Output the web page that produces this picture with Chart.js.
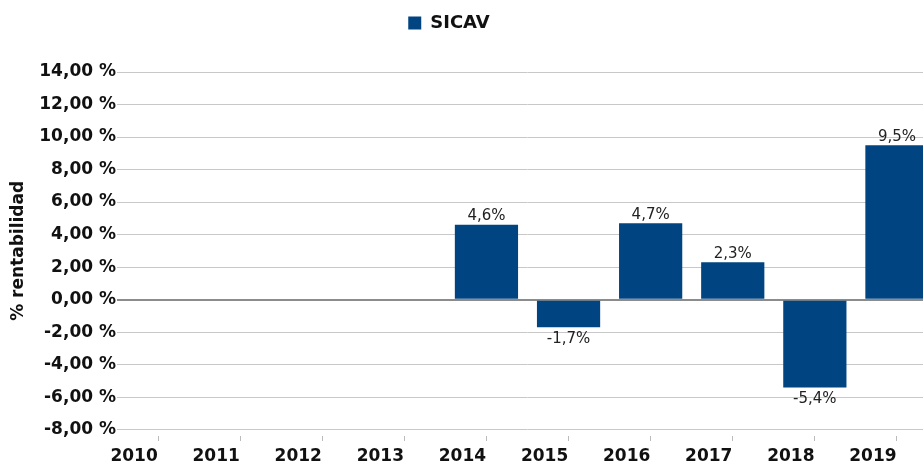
<!DOCTYPE html>
<html>
<head>
<meta charset="utf-8">
<script src="https://cdn.jsdelivr.net/npm/chart.js@4/dist/chart.umd.min.js"></script>
<style>
  html, body { margin: 0; padding: 0; background: #fff; overflow: hidden; }
  #wrap { width: 960px; height: 466px; }
</style>
</head>
<body>
<div id="wrap"><canvas id="c" width="960" height="466"></canvas></div>
<script>
const years = ['2010', '2011', '2012', '2013', '2014', '2015', '2016', '2017', '2018', '2019'];
const sicav = [null, null, null, null, 4.6, -1.7, 4.7, 2.3, -5.4, 9.5];

const fmt = v => v.toFixed(1).replace('.', ',') + '%';

// value labels above / below each bar
const barLabels = {
    id: 'barLabels',
    afterDatasetsDraw(chart) {
        const ctx = chart.ctx;
        const meta = chart.getDatasetMeta(0);
        ctx.save();
        ctx.font = '15px "DejaVu Sans"';
        ctx.fillStyle = '#222';
        ctx.textAlign = 'center';
        meta.data.forEach((bar, i) => {
            const v = sicav[i];
            if (v === null) return;
            if (v >= 0) {
                ctx.textBaseline = 'bottom';
                ctx.fillText(fmt(v), bar.x, bar.y - 1);
            } else {
                ctx.textBaseline = 'top';
                ctx.fillText(fmt(v), bar.x, bar.y + 4);
            }
        });
        ctx.restore();
    }
};

// extra room under the legend and shift it a bit to the left
const legendTweak = {
    id: 'legendTweak',
    beforeInit(chart) {
        const fit = chart.legend.fit;
        chart.legend.fit = function () {
            fit.bind(this)();
            this.height += 30;
        };
    },
    afterLayout(chart) {
        chart.legend.left -= 20;
        chart.legend.right -= 20;
    }
};

new Chart(document.getElementById('c'), {
    type: 'bar',
    data: {
        labels: years,
        datasets: [{
            label: 'SICAV',
            data: sicav,
            backgroundColor: '#004481',
            borderWidth: 0,
            barPercentage: 0.77,
            categoryPercentage: 1
        }]
    },
    options: {
        responsive: false,
        animation: false,
        layout: { padding: { top: 4, left: 0, right: 22, bottom: 0 } },
        plugins: {
            legend: {
                position: 'top',
                labels: {
                    boxWidth: 13,
                    boxHeight: 13,
                    padding: 10,
                    color: '#111',
                    font: { family: 'DejaVu Sans', size: 18, weight: 'bold' }
                }
            },
            tooltip: { enabled: false }
        },
        scales: {
            x: {
                grid: {
                    offset: false,
                    drawOnChartArea: false,
                    drawTicks: true,
                    tickLength: 17,
                    tickColor: '#bbb',
                    tickBorderDash: [0, 6, 5, 100]
                },
                border: { display: false },
                ticks: {
                    labelOffset: -24,
                    padding: 2,
                    color: '#111',
                    font: { family: 'DejaVu Sans', size: 17, weight: 'bold', lineHeight: 0.9 }
                }
            },
            y: {
                min: -8,
                max: 14,
                afterFit(scale) { scale.width = 117; },
                ticks: {
                    stepSize: 2,
                    padding: 1,
                    color: '#111',
                    font: { family: 'DejaVu Sans', size: 17, weight: 'bold' },
                    callback: v => v.toFixed(2).replace('.', ',') + ' %'
                },
                grid: {
                    drawTicks: false,
                    color: ctx => ctx.tick && ctx.tick.value === 0 ? '#8c8c8c' : '#c8c8c8',
                    lineWidth: ctx => ctx.tick && ctx.tick.value === 0 ? 2 : 1
                },
                border: { display: false },
                title: {
                    display: true,
                    text: '% rentabilidad',
                    color: '#111',
                    padding: { top: 8, bottom: 4 },
                    font: { family: 'DejaVu Sans', size: 17, weight: 'bold' }
                }
            }
        }
    },
    plugins: [barLabels, legendTweak]
});
</script>
</body>
</html>
